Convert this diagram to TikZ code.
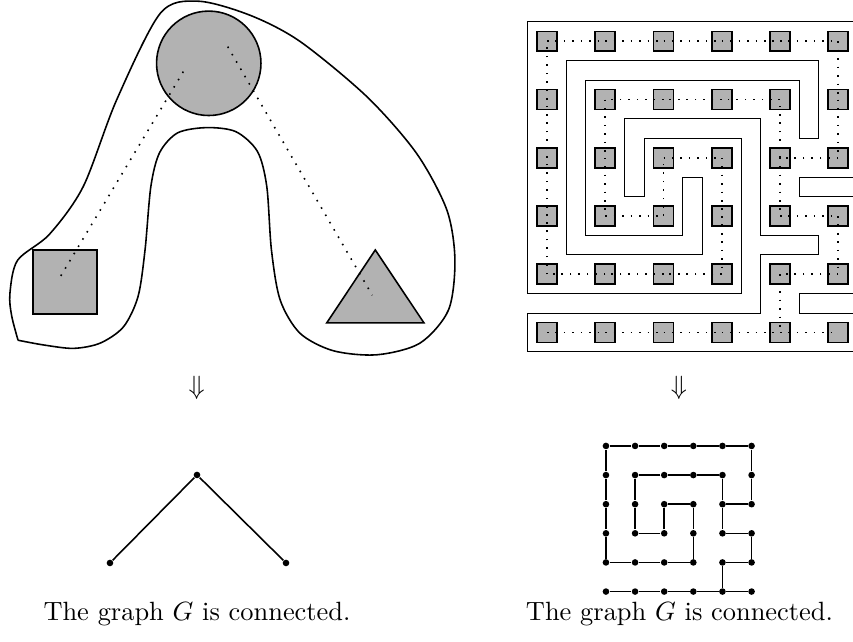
\documentclass[tikz,border=0pt]{standalone}
\usepackage{amsmath,amssymb}
\usepackage{tikz}
\usetikzlibrary{arrows}

\begin{document}
\begin{tikzpicture}[x=0.7754cm, y=0.7754cm]
\useasboundingbox (0,0) rectangle (14.644,11.021);
\tikzstyle{link} = [line width=0.6pt, dash pattern=on 0.6pt off 2.6pt]
% the region and its three pieces
\tikzstyle{every node} = [draw, semithick, fill=black!30, inner sep=0cm]
\node[circle, minimum size=1.39cm] (disc) at (3.584,9.934) {};
\node[minimum size=0.852cm] (box) at (1.116,6.180) {};
\coordinate (ta) at (6.443,6.730);
\coordinate (tl) at (5.609,5.477);
\coordinate (tr) at (7.279,5.477);
\draw[semithick, fill=black!30] (ta) -- (tl) -- (tr) -- cycle;
\draw[semithick] plot[smooth] coordinates {(0.31,5.18) (0.20,5.60) (0.17,5.98)
	(0.30,6.55) (0.85,7.00) (1.43,7.82) (2.00,9.30) (2.75,10.79) (3.40,11.00)
	(4.29,10.76) (5.15,10.31) (6.30,9.36) (7.15,8.39) (7.67,7.42) (7.81,6.56)
	(7.70,5.70) (7.21,5.13) (6.47,4.93) (5.72,5.00) (5.15,5.30) (4.81,5.87)
	(4.66,6.73) (4.58,7.82) (4.42,8.42) (4.05,8.76) (3.55,8.83) (3.05,8.74)
	(2.74,8.40) (2.59,7.82) (2.49,6.73) (2.37,5.93) (2.12,5.41) (1.72,5.13)
	(1.26,5.04) (0.74,5.10) (0.31,5.18)};
\coordinate (d1) at (3.147,9.791);
\coordinate (d2) at (1.030,6.261);
\coordinate (d3) at (3.909,10.220);
\coordinate (d4) at (6.391,5.952);
\draw[link] (d1) -- (d2);
\draw[link] (d3) -- (d4);
% the maze
\begin{scope}[shift={(9.391,10.312)}]
\draw (5.25,0.333) -- (-0.333,0.333) -- (-0.333,-4.333) -- (3.333,-4.333)
	-- (3.333,-1.667) -- (1.667,-1.667) -- (1.667,-2.667) -- (1.333,-2.667)
	-- (1.333,-1.333) -- (3.667,-1.333) -- (3.667,-3.333) -- (4.667,-3.333)
	-- (4.667,-3.667) -- (3.667,-3.667) -- (3.667,-4.667) -- (-0.333,-4.667)
	-- (-0.333,-5.333) -- (5.25,-5.333);
\draw (0.333,-0.333) -- (4.667,-0.333) -- (4.667,-1.667) -- (4.333,-1.667)
	-- (4.333,-0.667) -- (0.667,-0.667) -- (0.667,-3.333) -- (2.333,-3.333)
	-- (2.333,-2.333) -- (2.667,-2.333) -- (2.667,-3.667) -- (0.333,-3.667) -- cycle;
\draw (5.25,-2.333) -- (4.333,-2.333) -- (4.333,-2.667) -- (5.25,-2.667);
\draw (5.25,-4.333) -- (4.333,-4.333) -- (4.333,-4.667) -- (5.25,-4.667);
\foreach \i in {0,...,5}
	\foreach \j in {0,...,5}
		\node[minimum size=0.266cm] (m\i\j) at (\i,-\j) {};
\end{scope}
% the graph
\tikzstyle{every node} = [circle, fill=black, minimum size=2.5pt, inner sep=0cm]
\node (top) at (3.382,2.867) {};
\node (left) at (1.888,1.356) {};
\node (right) at (4.910,1.356) {};
\draw[semithick] (left) -- (top) -- (right);
\begin{scope}[shift={(10.403,3.365)}, scale=0.5]
\foreach \i in {0,...,5}
	\foreach \j in {0,...,5}
		\node (g\i\j) at (\i,-\j) {};
\end{scope}
\foreach \a/\b in {04/03, 03/02, 02/01, 01/00, 00/10, 10/20, 20/30, 30/40,
	40/50, 50/51, 51/52, 52/42, 42/43, 43/53, 53/54, 54/44, 44/45, 42/41,
	41/31, 31/21, 21/11, 11/12, 12/13, 13/23, 23/22, 22/32, 32/33, 33/34,
	34/24, 24/14, 14/04, 05/15, 15/25, 25/35, 35/45, 45/55}
{
	\draw[link] (m\a.center) -- (m\b.center);
	\draw[semithick] (g\a) -- (g\b);
}
\tikzstyle{every node} = []
\node (downl) at (3.377,4.360) {$\Downarrow$};
\node (downr) at (11.657,4.360) {$\Downarrow$};
\node[anchor=base] (capl) at (3.382,0.365) {The graph $G$ is connected.};
\node[anchor=base] (capr) at (11.665,0.365) {The graph $G$ is connected.};
\end{tikzpicture}
\end{document}
